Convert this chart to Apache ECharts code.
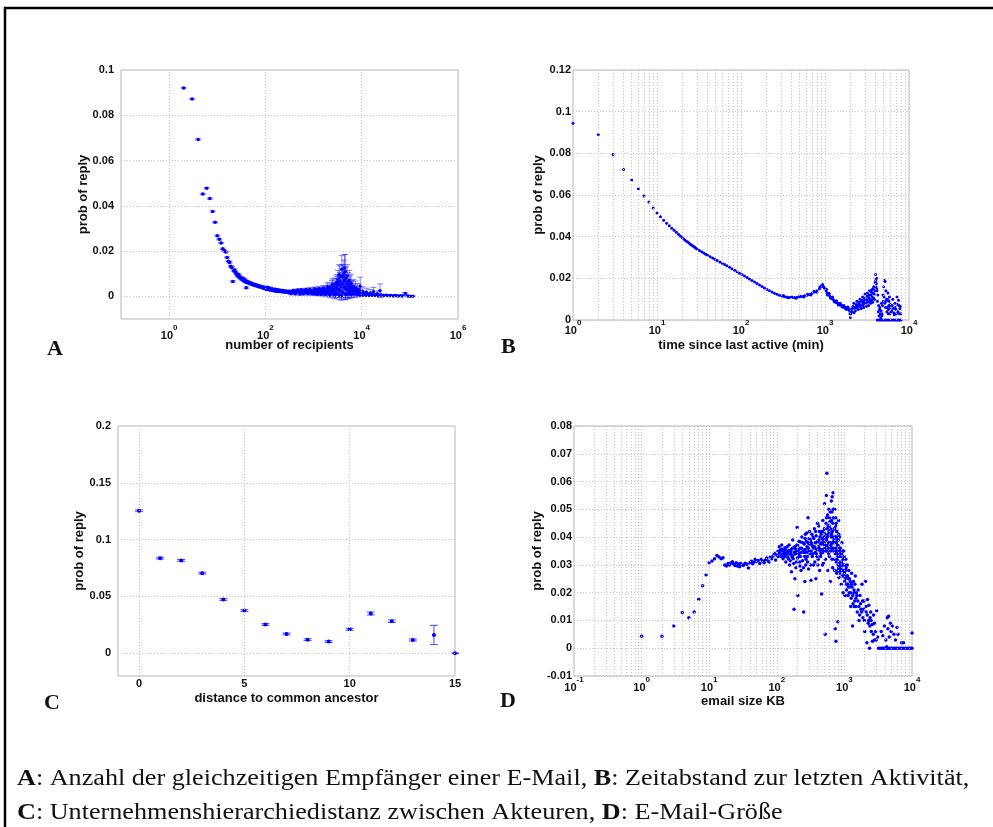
<!DOCTYPE html>
<html><head><meta charset="utf-8">
<script src="https://cdn.jsdelivr.net/npm/echarts@6/dist/echarts.min.js"></script>
<style>html,body{margin:0;padding:0;background:#fff}#c{width:993px;height:827px}</style>
</head><body><div id="c"></div>
<script>
// ---------- DATA ----------
// Panel A: number of recipients vs prob of reply  [x, y, errorbar half-height]
const recipientsData = [
[2,.0920,.0003],[3,.0872,.0003],[4,.0693,.0003],[5,.0452,.0003],[6,.0478,.0003],[7,.0432,.0003],[8,.0375,.0003],[9,.0327,.0003],
[10,.0268,.0003],[11,.0252,.0003],[12,.0236,.0003],[13,.0210,.0003],[14,.0201,.0003],[15,.0196,.0003],[16,.0172,.0003],[17,.0155,.0003],
[18,.0150,.0003],[19,.0133,.0003],[20,.0128,.0004],[21,.0066,.0004],[22,.0113,.0004],[23,.0117,.0004],[24,.0107,.0004],[25,.0100,.0004],
[26,.0094,.0004],[27,.0089,.0004],[28,.0096,.0004],[29,.0086,.0004],[30,.0083,.0004],[31,.0079,.0004],[32,.0081,.0004],[33,.0075,.0004],
[34,.0073,.0004],[35,.0078,.0004],[36,.0070,.0004],[37,.0067,.0004],[38,.0072,.0004],[39,.0064,.0004],[40,.0038,.0004],[41,.0066,.0004],
[42,.0061,.0004],[44,.0063,.0004],[46,.0058,.0004],[48,.0060,.0004],[50,.0055,.0004],[52,.0057,.0004],[55,.0051,.0004],[58,.0053,.0004],
[60,.0049,.0004],[63,.0051,.0004],[66,.0046,.0004],[70,.0048,.0004],[73,.0043,.0004],[76,.0045,.0004],[80,.0041,.0004],[84,.0043,.0004],
[88,.0038,.0004],[92,.0040,.0004],[96,.0036,.0004],[100,.0034,.0004],[105,.0032,.0004],[110,.0034,.0004],[110,.0040,.0004],[115,.0030,.0004],
[120,.0031,.0004],[125,.0036,.0004],[126,.0028,.0004],[132,.0030,.0004],[138,.0026,.0004],[140,.0033,.0004],[145,.0027,.0004],[152,.0025,.0004],
[160,.0026,.0004],[160,.0031,.0004],[168,.0023,.0004],[176,.0025,.0004],[180,.0029,.0004],[185,.0022,.0004],[195,.0024,.0004],[200,.0027,.0004],
[205,.0021,.0004],[215,.0023,.0004],[226,.0020,.0004],[230,.0026,.0004],[238,.0022,.0004],[250,.0019,.0004],[260,.0024,.0004],[262,.0021,.0004],
[275,.0018,.0004],[290,.0020,.0004],[300,.0023,.0004],[305,.0017,.0004],[320,.0022,.0004],[335,.0019,.0004],[340,.0012,.0004],[352,.0016,.0004],
[370,.0021,.0004],[380,.0026,.0005],[390,.0018,.0004],[410,.0023,.0004],[420,.0011,.0005],[430,.0017,.0004],[452,.0020,.0004],[470,.0028,.0005],
[475,.0024,.0005],[500,.0018,.0005],[520,.0010,.0005],[525,.0021,.0005],[552,.0016,.0005],[560,.0029,.0006],[580,.0022,.0005],[610,.0019,.0005],
[620,.0011,.0005],[640,.0025,.0005],[672,.0017,.0005],[690,.0030,.0006],[706,.0021,.0005],[742,.0027,.0006],[760,.0012,.0006],[780,.0018,.0005],
[820,.0022,.0005],[840,.0031,.0007],[860,.0016,.0005],[905,.0024,.0006],[930,.0011,.0006],[950,.0019,.0005],[1000,.0023,.0006],[1020,.0012,.0005],
[1030,.0033,.0008],[1050,.0017,.0006],[1100,.0026,.0007],[1120,.0030,.0008],[1150,.0010,.0007],[1160,.0020,.0006],[1220,.0015,.0006],[1250,.0010,.0006],
[1280,.0028,.0008],[1300,.0034,.0010],[1340,.0021,.0007],[1380,.0027,.0008],[1410,.0018,.0007],[1450,.0009,.0008],[1480,.0030,.0009],[1520,.0012,.0007],
[1550,.0022,.0010],[1600,.0036,.0012],[1630,.0016,.0008],[1670,.0028,.0010],[1710,.0032,.0012],[1750,.0008,.0010],[1800,.0024,.0010],[1850,.0011,.0008],
[1890,.0019,.0010],[1950,.0042,.0018],[1980,.0035,.0015],[2080,.0025,.0012],[2100,.0010,.0010],[2180,.0040,.0020],[2200,.0006,.0012],[2290,.0018,.0012],
[2300,.0030,.0015],[2400,.0045,.0025],[2450,.0052,.0025],[2500,.0012,.0015],[2520,.0028,.0015],[2640,.0050,.0030],[2700,.0038,.0020],[2750,.0004,.0015],
[2770,.0022,.0015],[2850,.0008,.0015],[2910,.0060,.0030],[3000,.0048,.0030],[3050,.0035,.0020],[3100,.0062,.0035],[3150,.0015,.0020],[3200,.0075,.0040],
[3300,.0055,.0035],[3350,.0030,.0025],[3400,.0095,.0045],[3450,.0005,.0020],[3520,.0085,.0050],[3600,.0065,.0040],[3690,.0045,.0030],[3750,.0020,.0025],
[3800,.0003,.0020],[3870,.0120,.0060],[3950,.0090,.0050],[4060,.0055,.0040],[4100,.0085,.0055],[4150,.0015,.0025],[4260,.0100,.0060],[4350,.0070,.0040],
[4400,.0125,.0060],[4470,.0040,.0030],[4540,.0110,.0075],[4550,.0010,.0025],[4690,.0080,.0050],[4700,.0006,.0020],[4800,.0055,.0040],[4920,.0030,.0035],
[5000,.0090,.0050],[5050,.0012,.0020],[5160,.0065,.0040],[5300,.0045,.0030],[5410,.0025,.0030],[5500,.0070,.0045],[5550,.0010,.0020],[5680,.0050,.0040],
[5800,.0035,.0030],[5960,.0020,.0020],[6000,.0058,.0040],[6100,.0008,.0015],[6250,.0040,.0030],[6400,.0028,.0020],[6560,.0015,.0020],[6700,.0045,.0030],
[6880,.0030,.0025],[7220,.0012,.0015],[7400,.0038,.0030],[7570,.0025,.0020],[7940,.0010,.0012],[8100,.0032,.0025],[8330,.0020,.0015],[8740,.0008,.0010],
[9000,.0028,.0022],[9170,.0015,.0012],[9300,.0045,.0040],[9620,.0010,.0010],[10100,.0007,.0008],[10500,.0022,.0020],[11000,.0012,.0010],[12000,.0006,.0006],
[12500,.0018,.0018],[13000,.0009,.0007],[14500,.0005,.0005],[15000,.0015,.0015],[16000,.0008,.0006],[17500,.0020,.0020],[18000,.0004,.0004],[20000,.0007,.0005],
[21000,.0012,.0012],[22000,.0004,.0004],[24000,.0025,.0030],[25000,.0006,.0005],[28000,.0003,.0003],[32000,.0005,.0004],[36000,.0003,.0003],[40000,.0004,.0003],
[45000,.0002,.0002],[50000,.0004,.0003],[56000,.0002,.0002],[63000,.0003,.0002],[70000,.0002,.0002],[80000,.0013,.0004],[90000,.0002,.0002],[100000,.0001,.0001],
[115000,.0001,.0001]
];

// Panel B: time since last active (min) vs prob of reply  [x, y]
const lastActiveData = [
[1,.0944],[2,.0891],[3,.0794],[4,.0722],[5,.0672],[6,.0630],[7,.0595],[8,.0566],[9,.0538],[10,.0514],[11,.0496],[12,.0479],[13,.0464],
[14,.0452],[15,.0441],[16,.0431],[17,.0421],[18,.0412],[19,.0403],[20,.0395],[21,.0388],[22,.0381],[23,.0376],[24,.0370],[25,.0364],
[26,.0359],[27,.0354],[28,.0350],[29,.0345],[30,.0341],[32,.0334],[34,.0328],[36,.0322],[38,.0316],[40,.0311],[43,.0304],[46,.0298],
[49,.0292],[52,.0286],[56,.0279],[60,.0272],[64,.0266],[68,.0260],[73,.0253],[78,.0246],[84,.0239],[90,.0232],[96,.0225],[103,.0218],
[110,.0211],[118,.0204],[126,.0197],[135,.0190],[145,.0182],[155,.0175],[166,.0168],[178,.0161],[190,.0154],[204,.0147],[218,.0141],
[234,.0135],[250,.0129],[268,.0124],[287,.0119],[307,.0115],[320,.0118],[329,.0112],[352,.0110],[360,.0107],[377,.0108],[400,.0112],
[404,.0108],[432,.0108],[450,.0104],[463,.0109],[496,.0111],[500,.0115],[531,.0113],[560,.0110],[569,.0116],[609,.0119],[620,.0124],
[652,.0123],[680,.0120],[698,.0128],[740,.0138],[748,.0134],[800,.0133],[801,.0141],[858,.0150],[870,.0158],[890,.0160],[920,.0165],
[930,.0172],[950,.0162],[970,.0158],[985,.0152],[1030,.0140],[1040,.0148],[1050,.0130],[1070,.0120],[1080,.0128],[1100,.0124],[1120,.0128],
[1130,.0118],[1160,.0110],[1170,.0104],[1190,.0108],[1220,.0103],[1230,.0110],[1250,.0099],[1280,.0093],[1300,.0086],[1320,.0090],[1350,.0085],
[1370,.0092],[1390,.0083],[1420,.0081],[1440,.0072],[1460,.0077],[1500,.0073],[1520,.0080],[1540,.0072],[1580,.0070],[1600,.0063],[1620,.0068],
[1660,.0061],[1680,.0070],[1700,.0064],[1750,.0058],[1780,.0052],[1800,.0060],[1850,.0052],[1880,.0062],[1900,.0055],[1950,.0050],[1960,.0045],
[1980,.0030],[2000,.0012],[2020,.0030],[2050,.0048],[2100,.0040],[2120,.0055],[2150,.0065],[2200,.0080],[2220,.0035],[2250,.0058],[2300,.0045],
[2320,.0062],[2350,.0075],[2400,.0090],[2420,.0058],[2450,.0068],[2500,.0050],[2520,.0078],[2550,.0085],[2600,.0100],[2620,.0065],[2650,.0072],
[2700,.0055],[2720,.0088],[2750,.0095],[2800,.0110],[2820,.0070],[2850,.0080],[2900,.0060],[2920,.0092],[2950,.0105],[3000,.0125],[3020,.0078],
[3050,.0088],[3100,.0065],[3120,.0100],[3150,.0115],[3200,.0130],[3220,.0085],[3250,.0095],[3300,.0070],[3320,.0108],[3350,.0120],[3400,.0140],
[3420,.0090],[3450,.0100],[3500,.0080],[3520,.0120],[3550,.0135],[3600,.0145],[3620,.0095],[3650,.0110],[3700,.0085],[3720,.0128],[3750,.0150],
[3800,.0160],[3820,.0105],[3850,.0125],[3900,.0100],[3920,.0140],[3950,.0180],[4000,.0218],[4020,.0190],[4050,.0160],[4080,.0175],[4100,.0200],
[4120,.0150],[4150,.0140],[4200,.0090],[4250,.0120],[4300,.0040],[4350,.0070],[4400,.0020],[4450,.0050],[4500,.0060],[4550,.0030],[4600,.0010],
[4650,.0045],[4700,.0080],[4750,.0020],[4800,.0030],[4850,.0070],[4900,.0120],[4950,.0090],[5000,.0160],[5050,.0110],[5100,.0190],[5150,.0080],
[5200,.0185],[5250,.0060],[5300,.0140],[5350,.0090],[5400,.0100],[5450,.0040],[5500,.0060],[5550,.0100],[5600,.0130],[5650,.0030],[5700,.0050],
[5750,.0070],[5800,.0090],[5850,.0110],[5900,.0030],[5950,.0060],[6000,.0075],[6100,.0040],[6200,.0045],[6300,.0070],[6400,.0100],[6500,.0055],
[6600,.0035],[6700,.0025],[6800,.0080],[6900,.0060],[7000,.0050],[7100,.0030],[7200,.0110],[7300,.0075],[7400,.0040],[7500,.0095],[7600,.0070],
[7700,.0030],[7800,.0055],[7900,.0065],[8000,.0030],
[4200,0],[4400,0],[4600,0],[4800,0],[5000,0],[5250,0],[5500,0],[5750,0],[6000,0],[6300,0],[6600,0],[6900,0],[7200,0],[7500,0],[7800,0],[8000,0]
];

// Panel C: distance to common ancestor vs prob of reply, with error bar half-heights
const ancestorDist = [0,1,2,3,4,5,6,7,8,9,10,11,12,13,14,15];
const ancestorProb = [0.1254,0.0837,0.0817,0.0705,0.0473,0.0376,0.0253,0.0170,0.0120,0.0103,0.0211,0.0350,0.0282,0.0117,0.0161,0.0];
const ancestorErr  = [0.0008,0.0008,0.0008,0.0008,0.0008,0.0008,0.0008,0.0008,0.0008,0.0008,0.0009,0.0013,0.0011,0.0009,0.0085,0.0002];

// Panel D: email size KB vs prob of reply  [x, y]
const emailSizeData = [
[1,.0043],[2,.0043],[3,.0080],[4,.0129],[5,.0110],[6,.0130],[7,.0176],[8,.0225],[9,.0264],[10,.0308],[11,.0314],[12,.0322],[13,.0334],
[14,.0328],[15,.0322],[16,.0326],[17,.0300],[18,.0296],[19,.0305],[20,.0300],[21,.0307],[22,.0311],[23,.0303],[24,.0298],[25,.0308],
[26,.0296],[27,.0303],[28,.0293],[29,.0305],[30,.0301],[32,.0298],[34,.0306],[36,.0302],[38,.0289],[40,.0308],[42,.0313],[44,.0304],
[46,.0310],[48,.0320],[50,.0312],[53,.0316],[56,.0305],[59,.0320],[62,.0313],[65,.0308],[68,.0318],[71,.0325],[74,.0314],[77,.0310],
[80,.0328],[84,.0322],[88,.0332],[92,.0342],[96,.0318],[100,.0336],[104,.0350],[105,.0330],[108,.0365],[110,.0342],[112,.0348],[115,.0355],
[116,.0330],[118,.0372],[120,.0356],[122,.0338],[124,.0322],[126,.0348],[128,.0340],[130,.0330],[132,.0362],[134,.0355],[136,.0310],
[138,.0338],[140,.0345],[142,.0365],[145,.0328],[148,.0322],[150,.0352],[152,.0372],[153,.0340],[155,.0300],[158,.0315],[160,.0338],[162,.0348],
[163,.0355],[165,.0275],[168,.0328],[170,.0360],[172,.0390],[173,.0335],[175,.0322],[178,.0305],[180,.0140],[182,.0345],[183,.0365],[185,.0250],
[188,.0358],[190,.0340],[192,.0290],[193,.0350],[195,.0310],[198,.0372],[200,.0435],[202,.0325],[203,.0370],[205,.0190],[208,.0345],[210,.0355],
[212,.0385],[213,.0340],[215,.0330],[218,.0310],[220,.0296],[222,.0360],[223,.0330],[225,.0382],[228,.0280],[230,.0345],[233,.0360],[235,.0400],
[240,.0315],[243,.0380],[245,.0350],[248,.0290],[250,.0130],[253,.0345],[255,.0375],[258,.0330],[260,.0240],[262,.0395],[263,.0355],[265,.0410],
[268,.0300],[270,.0320],[273,.0385],[275,.0345],[278,.0415],[280,.0365],[283,.0330],[285,.0310],[288,.0380],[290,.0470],[293,.0360],[295,.0285],
[298,.0350],[300,.0395],[303,.0375],[305,.0420],[310,.0340],[313,.0390],[315,.0300],[320,.0245],[323,.0350],[325,.0380],[330,.0410],[333,.0370],
[335,.0330],[340,.0365],[343,.0340],[345,.0400],[350,.0300],[353,.0395],[355,.0360],[360,.0430],[363,.0365],[365,.0310],[370,.0380],[373,.0345],
[375,.0420],[380,.0250],[383,.0405],[385,.0340],[390,.0355],[393,.0330],[395,.0380],[400,.0450],[403,.0385],[405,.0300],[410,.0320],[413,.0365],
[415,.0440],[420,.0390],[423,.0420],[425,.0360],[430,.0280],[433,.0350],[435,.0400],[440,.0420],[443,.0375],[445,.0330],[450,.0340],[453,.0410],
[455,.0380],[460,.0195],[463,.0355],[465,.0420],[470,.0375],[473,.0395],[475,.0300],[480,.0460],[483,.0345],[485,.0390],[490,.0305],[493,.0420],
[495,.0350],[500,.0400],[503,.0380],[505,.0430],[510,.0520],[513,.0360],[515,.0370],[520,.0050],[523,.0410],[525,.0320],[530,.0350],[533,.0395],
[535,.0450],[540,.0550],[543,.0470],[545,.0390],[550,.0630],[553,.0370],[555,.0350],[560,.0430],[563,.0400],[565,.0480],[570,.0280],[573,.0440],
[575,.0410],[580,.0380],[583,.0360],[585,.0340],[590,.0500],[593,.0420],[595,.0440],[600,.0330],[603,.0470],[605,.0380],[610,.0455],[613,.0380],
[615,.0490],[620,.0240],[623,.0430],[625,.0350],[630,.0410],[633,.0370],[635,.0400],[640,.0530],[643,.0410],[645,.0460],[650,.0360],[653,.0490],
[655,.0320],[660,.0545],[663,.0380],[665,.0420],[670,.0290],[673,.0450],[675,.0380],[680,.0560],[683,.0400],[685,.0500],[690,.0470],[693,.0360],
[695,.0350],[700,.0390],[703,.0470],[705,.0430],[710,.0320],[713,.0380],[715,.0280],[720,.0500],[723,.0430],[725,.0400],[730,.0070],[733,.0340],
[735,.0360],[740,.0440],[743,.0400],[745,.0470],[750,.0025],[753,.0450],[755,.0310],[760,.0380],[763,.0350],[765,.0420],[770,.0270],[773,.0400],
[775,.0350],[780,.0420],[783,.0320],[785,.0390],[790,.0340],[793,.0370],[795,.0280],[800,.0095],[803,.0330],[805,.0370],[810,.0300],[813,.0390],
[815,.0330],[820,.0460],[823,.0290],[825,.0410],[830,.0255],[833,.0350],[835,.0300],[840,.0360],[843,.0310],[845,.0350],[850,.0400],[853,.0330],
[855,.0270],[860,.0280],[865,.0300],[870,.0360],[880,.0330],[885,.0340],[890,.0290],[900,.0230],[905,.0310],[910,.0340],[920,.0380],[925,.0280],
[930,.0260],[940,.0300],[945,.0350],[950,.0320],[960,.0200],[965,.0300],[970,.0280],[980,.0350],[985,.0260],[990,.0330],[1000,.0270],[1005,.0300],
[1010,.0240],[1020,.0190],[1030,.0250],[1040,.0280],[1050,.0320],[1060,.0290],[1070,.0210],[1080,.0230],[1090,.0260],[1100,.0300],[1110,.0260],
[1120,.0230],[1130,.0190],[1140,.0220],[1150,.0250],[1160,.0280],[1180,.0200],[1190,.0250],[1200,.0220],[1220,.0240],[1230,.0200],[1240,.0150],
[1260,.0180],[1270,.0230],[1280,.0270],[1300,.0220],[1320,.0080],[1330,.0190],[1340,.0160],[1360,.0240],[1380,.0200],[1390,.0210],[1400,.0150],
[1420,.0170],[1430,.0230],[1450,.0260],[1470,.0150],[1480,.0180],[1500,.0200],[1530,.0190],[1550,.0130],[1580,.0170],[1600,.0210],[1630,.0150],
[1650,.0100],[1680,.0120],[1700,.0190],[1730,.0160],[1760,.0140],[1800,.0130],[1820,.0230],[1860,.0170],[1880,.0110],[1920,.0140],[1950,.0170],
[1980,.0100],[2000,.0060],[2050,.0240],[2080,.0150],[2100,.0130],[2150,.0020],[2180,.0120],[2200,.0175],[2250,.0090],[2280,.0100],[2300,.0155],
[2350,.0000],[2380,.0080],[2400,.0110],[2450,.0130],[2480,.0100],[2500,.0060],[2580,.0085],[2600,.0025],[2680,.0050],[2700,.0120],[2780,.0090],
[2800,.0030],[2900,.0060],[2950,.0030],[3000,.0135],[3100,.0040],[3500,.0060],[3700,.0045],[3900,.0080],[4100,.0030],[4200,.0005],[4300,.0110],
[4400,.0070],[4500,.0115],[4600,.0040],[4800,.0090],[4900,.0060],[5100,.0080],[5400,.0050],[5700,.0030],[6000,.0075],[6200,.0050],[7000,.0020],
[7500,.0020],[10000,.0055],
[3200,0],[3400,0],[3600,0],[3800,0],[4000,0],[4200,0],[4450,0],[4700,0],[5000,0],[5300,0],[5600,0],[5900,0],[6300,0],[6700,0],
[7100,0],[7500,0],[8000,0],[8500,0],[9000,0],[9500,0],[10000,0]
];

// Text
const yTitle = 'prob of reply';
const xTitles = ['number of recipients', 'time since last active (min)', 'distance to common ancestor', 'email size KB'];
const panelLetters = ['A', 'B', 'C', 'D'];
const captionLine1 = '{b|A}: Anzahl der gleichzeitigen Empfänger einer E-Mail, {b|B}: Zeitabstand zur letzten Aktivität,';
const captionLine2 = '{b|C}: Unternehmenshierarchiedistanz zwischen Akteuren, {b|D}: E-Mail-Größe';

// ---------- CHART ----------
const SANS = '"Liberation Sans", Arial, Helvetica, sans-serif';
const SERIF = '"Liberation Serif", "Times New Roman", serif';
const TXT = '#111';
const BLUE = '#0000ff';
const GRIDC = '#c4c4c4';
const TICK_FS = 11;

const supRich = {
  b: {fontSize: TICK_FS, fontWeight: 'bold', fontFamily: SANS, color: TXT, lineHeight: 17, verticalAlign: 'bottom'},
  s: {fontSize: 8, fontWeight: 'bold', fontFamily: SANS, color: TXT, lineHeight: 17, verticalAlign: 'top'}
};
function powLabel(v) { const e = Math.round(Math.log10(v)); return '{b|10}{s|' + e + '}'; }
function fmt(v) { return String(parseFloat(v.toFixed(3))); }
const nameStyle = {fontFamily: SANS, fontWeight: 'bold', fontSize: 13, color: TXT};

function logX(gi, min, max, every, margin, gap) {
  return {
    type: 'log', logBase: 10, gridIndex: gi, min: min, max: max, interval: 1,
    axisLine: {show: false}, axisTick: {show: false}, splitLine: {show: false},
    axisLabel: {margin: margin, formatter: function (v) {
      const e = Math.round(Math.log10(v)); return (e % every === 0) ? powLabel(v) : '';
    }, rich: supRich},
    name: xTitles[gi], nameLocation: 'middle', nameGap: gap, nameMoveOverlap: false,
    nameTextStyle: nameStyle
  };
}
function valY(gi, min, max, interval, showFn, split, margin, gap) {
  return {
    type: 'value', gridIndex: gi, min: min, max: max, interval: interval,
    axisLine: {show: false}, axisTick: {show: false},
    splitLine: {show: split, lineStyle: {color: GRIDC, type: [1, 2], width: 1}},
    axisLabel: {margin: margin, fontFamily: SANS, fontWeight: 'bold', fontSize: TICK_FS, color: TXT,
      formatter: function (v) { return showFn(v) ? fmt(v) : ''; }},
    name: yTitle, nameLocation: 'middle', nameGap: gap, nameMoveOverlap: false,
    nameTextStyle: nameStyle
  };
}
function gridLines(gi, xs, ys) {
  return {
    type: 'scatter', xAxisIndex: gi, yAxisIndex: gi, data: [], silent: true, z: 1,
    markLine: {silent: true, symbol: 'none', animation: false, label: {show: false},
      emphasis: {disabled: true},
      lineStyle: {color: GRIDC, type: [1, 2], width: 1},
      data: xs.map(v => ({xAxis: v})).concat(ys.map(v => ({yAxis: v})))}
  };
}
function minorDecades(k0, k1) {
  const out = [];
  for (let k = k0; k < k1; k++) for (let m = 1; m <= 9; m++) {
    if (k === k0 && m === 1) continue;
    out.push(parseFloat((m * Math.pow(10, k)).toPrecision(3)));
  }
  return out;
}
function errBarSeries(gi, data, capHalf, color) {
  return {
    type: 'custom', xAxisIndex: gi, yAxisIndex: gi, data: data, z: 3, silent: true,
    encode: {x: 0, y: 1},
    renderItem: function (params, api) {
      const x = api.value(0), y = api.value(1), e = api.value(2);
      const p = api.coord([x, y]);
      const t = api.coord([x, y + e]);
      const b = api.coord([x, y - e]);
      const st = {stroke: color, lineWidth: 1};
      return {type: 'group', children: [
        {type: 'line', shape: {x1: p[0], y1: t[1], x2: p[0], y2: b[1]}, style: st},
        {type: 'line', shape: {x1: p[0] - capHalf, y1: t[1], x2: p[0] + capHalf, y2: t[1]}, style: st},
        {type: 'line', shape: {x1: p[0] - capHalf, y1: b[1], x2: p[0] + capHalf, y2: b[1]}, style: st}
      ]};
    }
  };
}
function dots(gi, data, size) {
  return {type: 'scatter', xAxisIndex: gi, yAxisIndex: gi, z: 4, symbol: 'circle', symbolSize: size,
    itemStyle: {color: BLUE, opacity: 1}, silent: true, data: data};
}

const ancestorData = ancestorDist.map((d, i) => [d, ancestorProb[i], ancestorErr[i]]);
const gridBox = {show: true, borderColor: '#b8b8b8', borderWidth: 1, backgroundColor: 'transparent'};

const option = {
  animation: false,
  backgroundColor: '#fff',
  grid: [
    Object.assign({left: 121, top: 70, width: 337, height: 249}, gridBox),
    Object.assign({left: 573, top: 70, width: 336, height: 250}, gridBox),
    Object.assign({left: 118, top: 426, width: 337, height: 250}, gridBox),
    Object.assign({left: 574, top: 426, width: 338, height: 250}, gridBox)
  ],
  xAxis: [
    logX(0, 0.1, 1e6, 2, 5, 20),
    logX(1, 1, 1e4, 1, -1, 19),
    {
      type: 'value', gridIndex: 2, min: -1, max: 15, interval: 1,
      axisLine: {show: false}, axisTick: {show: false}, splitLine: {show: false},
      axisLabel: {margin: 2, fontFamily: SANS, fontWeight: 'bold', fontSize: TICK_FS, color: TXT,
        formatter: function (v) { return (Math.round(v) % 5 === 0 && v >= 0) ? String(v) : ''; }},
      name: xTitles[2], nameLocation: 'middle', nameGap: 16, nameMoveOverlap: false,
      nameTextStyle: nameStyle
    },
    logX(3, 0.1, 1e4, 1, 0, 19)
  ],
  yAxis: [
    valY(0, -0.01, 0.1, 0.01, v => v > -0.001 && Math.round(v * 100) % 2 === 0, false, 7, 31),
    valY(1, 0, 0.12, 0.02, v => true, true, 2, 28.5),
    valY(2, -0.02, 0.2, 0.01, v => v > -0.001 && Math.round(v * 100) % 5 === 0, false, 7, 32),
    valY(3, -0.01, 0.08, 0.01, v => true, true, 2, 30.5)
  ],
  series: [
    gridLines(0, [1, 100, 10000], [0, 0.02, 0.04, 0.06, 0.08]),
    gridLines(1, minorDecades(0, 4), []),
    gridLines(2, [0, 5, 10], [0, 0.05, 0.1, 0.15]),
    gridLines(3, minorDecades(-1, 4), []),
    errBarSeries(0, recipientsData, 3, 'rgba(30,30,255,0.55)'),
    dots(0, recipientsData.map(d => [d[0], d[1]]), 3.5),
    dots(1, lastActiveData, 3),
    errBarSeries(2, ancestorData, 4, 'rgba(30,30,255,0.8)'),
    dots(2, ancestorData.map(d => [d[0], d[1]]), 4),
    dots(3, emailSizeData, 3.5)
  ],
  graphic: [
    {type: 'line', shape: {x1: 5, y1: 7, x2: 5, y2: 827}, style: {stroke: '#000', lineWidth: 2.5}, z: 10},
    {type: 'line', shape: {x1: 4, y1: 8, x2: 993, y2: 8}, style: {stroke: '#000', lineWidth: 2.5}, z: 10},
    {type: 'text', x: 47, y: 349, style: {text: panelLetters[0], font: 'bold 22px ' + SERIF, fill: TXT, verticalAlign: 'middle'}},
    {type: 'text', x: 501, y: 347, style: {text: panelLetters[1], font: 'bold 22px ' + SERIF, fill: TXT, verticalAlign: 'middle'}},
    {type: 'text', x: 44, y: 703, style: {text: panelLetters[2], font: 'bold 22px ' + SERIF, fill: TXT, verticalAlign: 'middle'}},
    {type: 'text', x: 500, y: 701, style: {text: panelLetters[3], font: 'bold 22px ' + SERIF, fill: TXT, verticalAlign: 'middle'}},
    {type: 'text', x: 17, y: 779, scaleX: 1.09, style: {text: captionLine1, fontFamily: SERIF, fontSize: 24, fill: TXT, verticalAlign: 'middle',
      rich: {b: {fontFamily: SERIF, fontSize: 24, fontWeight: 'bold', fill: TXT}}}},
    {type: 'text', x: 17, y: 813, scaleX: 1.09, style: {text: captionLine2, fontFamily: SERIF, fontSize: 24, fill: TXT, verticalAlign: 'middle',
      rich: {b: {fontFamily: SERIF, fontSize: 24, fontWeight: 'bold', fill: TXT}}}}
  ]
};

const chart = echarts.init(document.getElementById('c'), null, {renderer: 'canvas'});
chart.setOption(option);
</script></body></html>
